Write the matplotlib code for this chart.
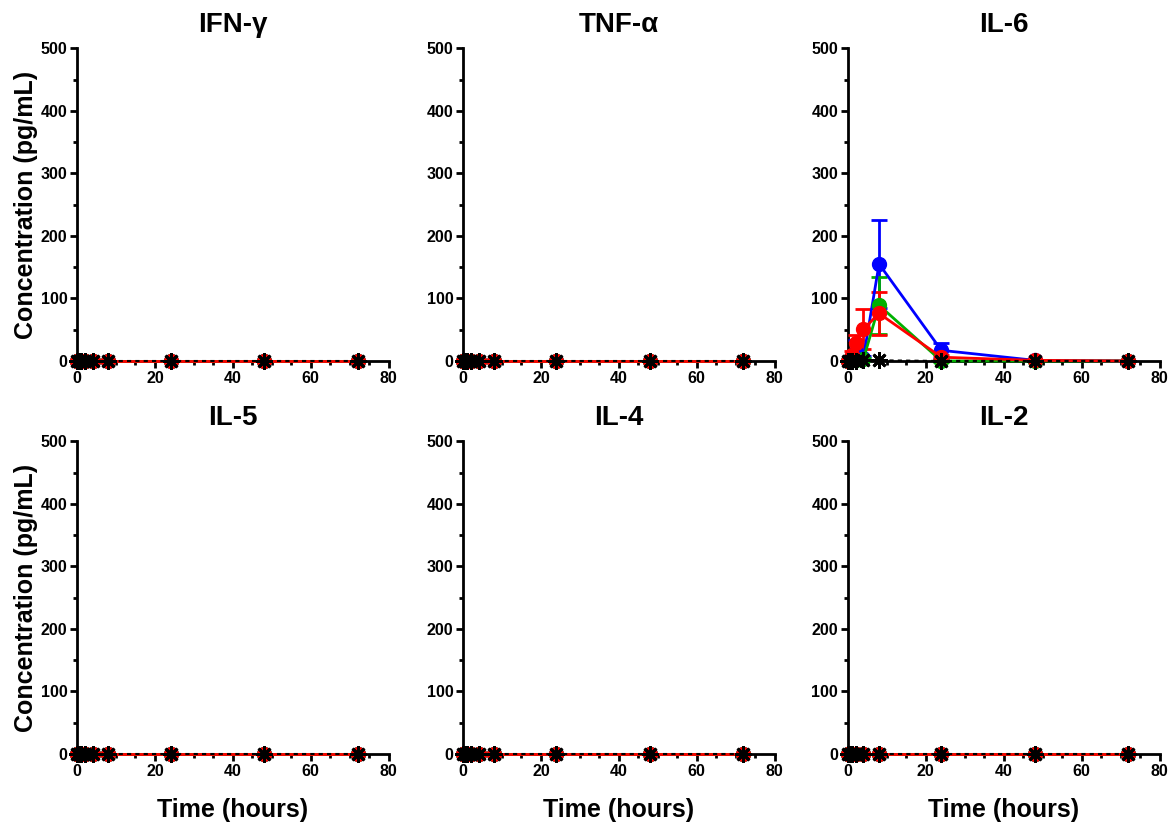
import matplotlib
matplotlib.use("Agg")
import matplotlib.pyplot as plt
from matplotlib.ticker import MultipleLocator
import numpy as np

plt.rcParams['font.family'] = ['Liberation Sans', 'DejaVu Sans']
plt.rcParams['font.weight'] = 'bold'

times = [0, 0.5, 1, 2, 4, 8, 24, 48, 72]
panels = ["IFN-γ", "TNF-α", "IL-6", "IL-5", "IL-4", "IL-2"]
series_names = ["blue", "green", "red", "black"]
zeros = [0, 0, 0, 0, 0, 0, 0, 0, 0]

# IL-6 values (mean, SD)
il6_blue = [0, 2, 4, 15, 5, 155, 17, 1, 0]
il6_blue_err = [0, 2, 4, 18, 3, 70, 12, 1, 0]
il6_green = [0, 0, 1, 2, 3, 89, 0, 0, 0]
il6_green_err = [0, 0, 1, 2, 2, 46, 1, 0, 0]
il6_red = [0, 3, 10, 29, 51, 76, 6, 1, 0]
il6_red_err = [0, 2, 6, 13, 32, 34, 3, 1, 0]
il6_black = [0, 0, 0, 0, 2, 1, 0, 0, 0]

data = {p: {"blue": (zeros, zeros), "green": (zeros, zeros),
            "red": (zeros, zeros), "black": (zeros, zeros)} for p in panels}
data["IL-6"] = {"blue": (il6_blue, il6_blue_err),
                "green": (il6_green, il6_green_err),
                "red": (il6_red, il6_red_err),
                "black": (il6_black, zeros)}

colors = {"blue": "#0000ff", "green": "#00b000", "red": "#ff0000", "black": "#000000"}

fig = plt.figure(figsize=(11.76, 8.23), dpi=100)
lefts = [0.0655, 0.3937, 0.721]
bottoms = [0.5614, 0.0838]
w, h = 0.265, 0.38

for i, name in enumerate(panels):
    r, c = divmod(i, 3)
    ax = fig.add_axes([lefts[c], bottoms[r], w, h])
    for s in series_names:
        y, e = data[name][s]
        col = colors[s]
        if s == "black":
            ax.plot(times, y, color=col, linestyle=(0, (2, 2)), linewidth=1.5,
                    marker=(8, 2, 0), markersize=12, markeredgewidth=2,
                    clip_on=False, zorder=6)
        else:
            ax.errorbar(times, y, yerr=e, color=col, linewidth=2,
                        marker='o', markersize=10, elinewidth=2, capsize=5.5,
                        capthick=2, clip_on=False, zorder=3)
    ax.set_xlim(0, 80)
    ax.set_ylim(0, 500)
    ax.xaxis.set_major_locator(MultipleLocator(20))
    ax.xaxis.set_minor_locator(MultipleLocator(5))
    ax.yaxis.set_major_locator(MultipleLocator(100))
    ax.yaxis.set_minor_locator(MultipleLocator(50))
    for sp in ["top", "right"]:
        ax.spines[sp].set_visible(False)
    for sp in ["left", "bottom"]:
        ax.spines[sp].set_linewidth(2)
    ax.tick_params(which='major', length=5, width=2, labelsize=11.5, pad=2)
    ax.tick_params(which='minor', length=3, width=2)
    for lab in ax.get_xticklabels() + ax.get_yticklabels():
        lab.set_fontweight('bold')
    ax.set_title(name, fontsize=20, fontweight='bold', pad=12)
    if c == 0:
        ax.set_ylabel("Concentration (pg/mL)", fontsize=18, fontweight='bold', labelpad=2)
    if r == 1:
        ax.set_xlabel("Time (hours)", fontsize=18, fontweight='bold', labelpad=14)

fig.savefig("out.png", dpi=100)
